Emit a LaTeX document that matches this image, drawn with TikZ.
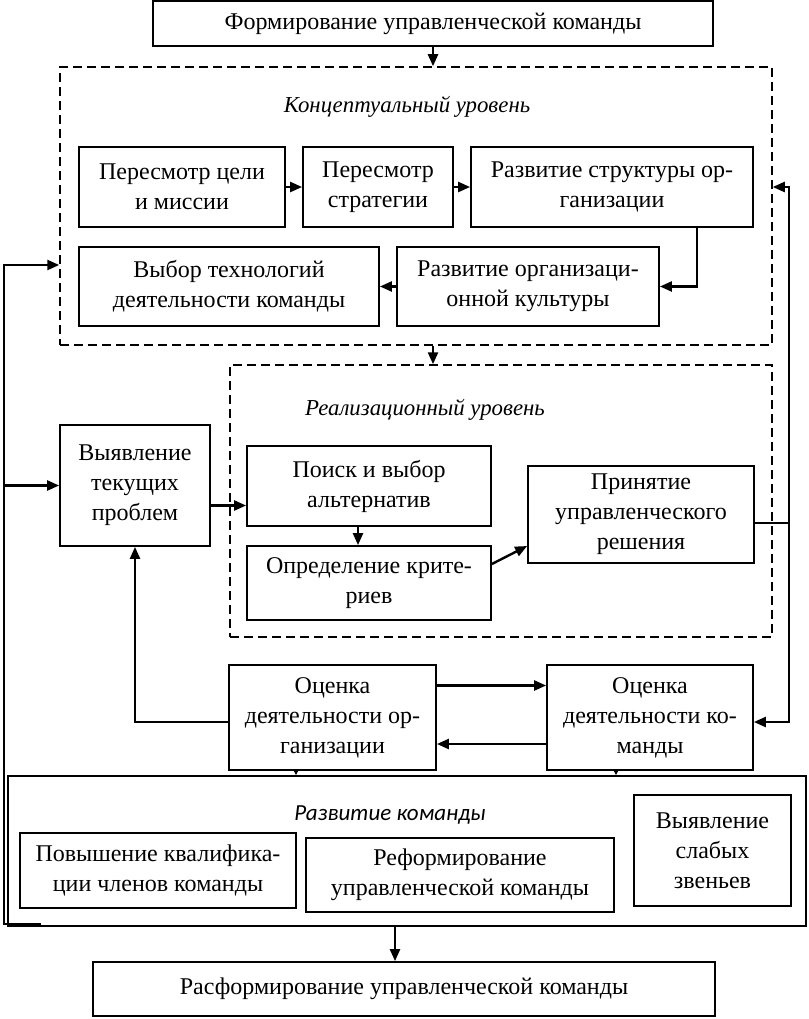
\documentclass[tikz,border=0pt]{standalone}
\usepackage{fontspec}
\setmainfont{Liberation Serif}
\newfontfamily\carl{Carlito}
\usetikzlibrary{arrows.meta}
\begin{document}
\begin{tikzpicture}[x=1pt,y=-1pt,
  box/.style={draw, line width=1.8pt, align=center, inner sep=0pt, font=\fontsize{24}{30}\selectfont},
  dbox/.style={draw, dash pattern=on 9pt off 5pt, line width=1.5pt, inner sep=0pt},
  lbl/.style={font=\fontsize{22.8}{27}\selectfont\itshape, inner sep=0pt},
  arr/.style={-{Triangle[length=12pt,width=10pt]}, line width=2.4pt},
  sarr/.style={-{Triangle[length=6pt,width=6pt]}, line width=1.2pt},
  ln/.style={line width=1.6pt}]
\useasboundingbox (0,0) rectangle (808,1019);
% top
\node[box, minimum width=560pt, minimum height=45pt] (top) at (433,23.5) {Формирование управленческой команды};
% conceptual level
\node[dbox, minimum width=712pt, minimum height=278pt] (conc) at (416,206) {};
\node[lbl] (cl) at (407,107) {Концептуальный уровень};
\node[box, minimum width=206pt, minimum height=80pt] (c1) at (182,187) {Пересмотр цели\\и миссии};
\node[box, minimum width=150pt, minimum height=80pt] (c2) at (378,187) {Пересмотр\\стратегии};
\node[box, minimum width=282pt, minimum height=80pt] (c3) at (612,187) {Развитие структуры ор-\\ганизации};
\node[box, minimum width=300pt, minimum height=79pt] (c4) at (229,286.5) {Выбор технологий\\деятельности команды};
\node[box, minimum width=262pt, minimum height=79pt] (c5) at (528,286.5) {Развитие организаци-\\онной культуры};
% realization level
\node[dbox, minimum width=542pt, minimum height=272pt] (real) at (501,501) {};
\node[lbl] (rl) at (425,410) {Реализационный уровень};
\node[box, minimum width=150pt, minimum height=121pt] (vt) at (135,485.5) {Выявление\\текущих\\проблем};
\node[box, minimum width=244pt, minimum height=80pt] (poisk) at (369,486) {Поиск и выбор\\альтернатив};
\node[box, minimum width=244pt, minimum height=74pt] (opr) at (369,583) {Определение крите-\\риев};
\node[box, minimum width=226pt, minimum height=97pt] (prin) at (641,514.5) {Принятие\\управленческого\\решения};
% evaluation
\node[box, minimum width=207pt, minimum height=105pt] (oorg) at (332.5,717.5) {Оценка\\деятельности ор-\\ганизации};
\node[box, minimum width=206pt, minimum height=105pt] (ocmd) at (650,717.5) {Оценка\\деятельности ко-\\манды};
% team development
\node[draw, line width=1.8pt, inner sep=0pt, minimum width=798pt, minimum height=150pt] (razv) at (407,851) {};
\node[font=\fontsize{23}{27}\selectfont\carl\itshape, inner sep=0pt] (rk) at (390,815) {Развитие команды};
\node[box, minimum width=276pt, minimum height=75pt] (pk) at (158,870.5) {Повышение квалифика-\\ции членов команды};
\node[box, minimum width=308pt, minimum height=74pt] (ref) at (460,875) {Реформирование\\управленческой команды};
\node[box, minimum width=157pt, minimum height=111pt] (vs) at (712.5,850.5) {Выявление\\слабых\\звеньев};
% bottom
\node[box, minimum width=622pt, minimum height=54pt] (rasf) at (404,989) {Расформирование управленческой команды};
% connectors
\draw[arr] (top.south) -- (top.south |- conc.north);
\draw[arr] (c1) -- (c2);
\draw[arr] (c2) -- (c3);
\draw[arr] ([xshift=85pt]c3.south) |- (c5.east);
\draw[arr] (c5) -- (c4);
\draw[arr] (conc.south -| top.south) -- (real.north -| top.south);
\coordinate (L0) at (41,924);
\coordinate (L1) at (4,924);
\coordinate (Lt) at ([yshift=-59pt]conc.west);
\draw[arr] (L0) -- (L1) -- (L1 |- Lt) -- (Lt);
\draw[arr] (vt.west -| L1) -- (vt.west);
\draw[arr] ([yshift=-20pt]vt.east) -- ([yshift=-20pt]vt.east -| poisk.west);
\draw[arr] ([xshift=-11pt]poisk.south) -- ([xshift=-11pt]opr.north);
\draw[arr] ([yshift=19pt]opr.east) -- ([yshift=-31.5pt]prin.west);
\coordinate (R) at (789,523);
\coordinate (Rt) at (789,187);
\coordinate (Rb) at (789,722);
\draw[ln] ([yshift=-8.5pt]prin.east) -- (R);
\draw[arr] (R) -- (Rt) -- (Rt -| conc.east);
\draw[arr] (R) -- (Rb) -- (Rb -| ocmd.east);
\draw[arr] ([yshift=32pt]oorg.east) -- ([yshift=32pt]ocmd.west);
\draw[arr] ([yshift=-26.5pt]ocmd.west) -- ([yshift=-26.5pt]oorg.east);
\draw[arr] ([yshift=-4.5pt]oorg.west) -| (vt.south);
\draw[sarr] ([xshift=-36.5pt]oorg.south) -- ([xshift=-36.5pt]oorg.south |- razv.north);
\draw[sarr] ([xshift=-34pt]ocmd.south) -- ([xshift=-34pt]ocmd.south |- razv.north);
\draw[arr] ([xshift=-12pt]razv.south) -- ([xshift=-12pt]razv.south |- rasf.north);
\end{tikzpicture}
\end{document}
